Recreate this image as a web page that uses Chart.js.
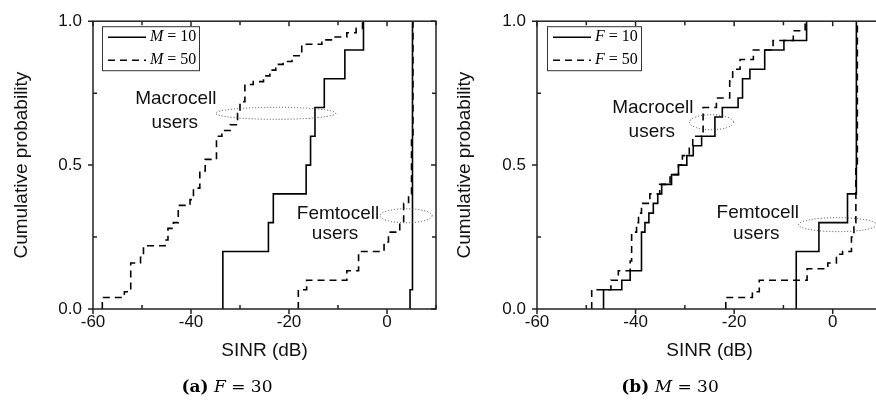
<!DOCTYPE html>
<html>
<head>
<meta charset="utf-8">
<script src="https://cdn.jsdelivr.net/npm/chart.js@4.4.1/dist/chart.umd.min.js"></script>
<style>
html, body { margin: 0; padding: 0; background: #fff; overflow: hidden; width: 876px; height: 403px; }
#wrapA { position: absolute; left: 0; top: 0; width: 440px; height: 403px; }
#wrapB { position: absolute; left: 440px; top: 0; width: 446px; height: 403px; }
.cap { position: absolute; top: 376px; font-family: "DejaVu Serif"; font-size: 17px; color: #000; white-space: nowrap; transform: translateX(-50%); }
</style>
</head>
<body>
<div id="wrapA"><canvas id="chartA" width="440" height="403"></canvas></div>
<div id="wrapB"><canvas id="chartB" width="446" height="403"></canvas></div>
<div class="cap" style="left:227px"><b>(a)</b> <i>F</i> = 30</div>
<div class="cap" style="left:670px"><b>(b)</b> <i>M</i> = 30</div>
<script>
// axis ticks
const xTickVals = [-60, -40, -20, 0];
const xMinorVals = [-50, -30, -10, 10];
const yTickVals = [0, 0.5, 1];
const yTickLabels = ['0.0', '0.5', '1.0'];
const yMinorVals = [0.25, 0.75];

// (a) F = 30 : CDF steps, x = SINR (dB), y = cumulative probability
const aMacro10X = [-33.5, -33.5, -24.2, -23.2, -16.5, -15.6, -14.7, -12.8, -8.6, -4.8];
const aMacro10Y = [0, 0.2, 0.3, 0.4, 0.5, 0.6, 0.7, 0.8, 0.9, 1.0];
const aFemto10X = [4.7, 4.7, 5.2];
const aFemto10Y = [0, 0.067, 1.0];
const aMacro50X = [-58.1, -58.1, -53.6, -52.3, -50.3, -49.7, -45.3, -44.7, -43.6, -42.6, -40.2, -39.5, -38.2, -37.1, -34.8, -33.7, -32.0, -30.5, -30.0, -29.0, -27.3, -25.2, -23.9, -22.7, -21.2, -19.4, -17.4, -13.3, -11.0, -8.2, -6.3, -5.0];
const aMacro50Y = [0, 0.04, 0.06, 0.16, 0.18, 0.22, 0.24, 0.28, 0.30, 0.36, 0.38, 0.42, 0.48, 0.52, 0.60, 0.62, 0.64, 0.68, 0.72, 0.78, 0.79, 0.81, 0.83, 0.85, 0.86, 0.88, 0.92, 0.935, 0.945, 0.96, 0.975, 1.0];
const aFemto50X = [-18.1, -18.1, -16.4, -8.2, -5.8, -0.6, 0.3, 2.6, 3.4, 4.4, 5.0, 5.3];
const aFemto50Y = [0, 0.067, 0.1, 0.133, 0.2, 0.233, 0.267, 0.3, 0.367, 0.4, 0.6, 1.0];

// (b) M = 30
const bMacro10X = [-46.5, -46.5, -42.8, -41.1, -38.8, -38.1, -37.3, -36.4, -35.5, -34.7, -32.7, -31.3, -29.6, -28.3, -26.6, -23.9, -22.4, -19.2, -18.3, -16.8, -13.8, -9.9, -5.3];
const bMacro10Y = [0, 0.067, 0.1, 0.133, 0.267, 0.3, 0.333, 0.367, 0.4, 0.433, 0.467, 0.5, 0.533, 0.567, 0.6, 0.667, 0.7, 0.733, 0.8, 0.833, 0.9, 0.933, 1.0];
const bFemto10X = [-7.4, -7.4, -2.8, 3.0, 4.8];
const bFemto10Y = [0, 0.2, 0.3, 0.4, 1.0];
const bMacro50X = [-48.9, -48.9, -45.0, -43.5, -41.1, -40.8, -39.8, -39.4, -38.8, -37.1, -35.1, -33.0, -31.3, -30.5, -29.1, -28.4, -26.3, -23.6, -20.9, -20.3, -18.8, -16.1, -12.1, -8.0, -5.6];
const bMacro50Y = [0, 0.067, 0.1, 0.133, 0.167, 0.267, 0.3, 0.333, 0.367, 0.4, 0.433, 0.467, 0.5, 0.533, 0.567, 0.6, 0.7, 0.733, 0.8, 0.833, 0.867, 0.9, 0.933, 0.967, 1.0];
const bFemto50X = [-21.7, -21.7, -16.3, -14.9, -5.2, -1.0, 0.75, 2.0, 3.8, 4.3, 4.7, 5.0];
const bFemto50Y = [0, 0.04, 0.06, 0.1, 0.14, 0.16, 0.19, 0.2, 0.25, 0.3, 0.5, 1.0];

const legendA = ['M', '10', '50'];
const legendB = ['F', '10', '50'];

function pts(xs, ys) {
  return xs.map((v, i) => ({ x: v, y: ys[i] }));
}

function series(xs, ys, dashed) {
  return {
    data: pts(xs, ys),
    stepped: true,
    borderColor: '#000',
    borderWidth: 1.6,
    borderDash: dashed ? [7, 5] : [],
    pointRadius: 0,
    fill: false
  };
}

// frame, ticks, legend and the little notes
const extras = {
  id: 'extras',
  afterDatasetsDraw(chart) {
    const { ctx, chartArea: a, scales: { x, y } } = chart;
    ctx.save();
    ctx.strokeStyle = '#222';
    ctx.lineWidth = 1.5;
    ctx.setLineDash([]);
    ctx.strokeRect(a.left, a.top, a.right - a.left, a.bottom - a.top);
    ctx.beginPath();
    xTickVals.forEach(v => {
      const p = x.getPixelForValue(v);
      ctx.moveTo(p, a.bottom); ctx.lineTo(p, a.bottom + 5);
      ctx.moveTo(p, a.top); ctx.lineTo(p, a.top + 5);
    });
    xMinorVals.forEach(v => {
      const p = x.getPixelForValue(v);
      ctx.moveTo(p, a.bottom); ctx.lineTo(p, a.bottom - 4);
      ctx.moveTo(p, a.top); ctx.lineTo(p, a.top + 4);
    });
    yTickVals.forEach(v => {
      const p = y.getPixelForValue(v);
      ctx.moveTo(a.left, p); ctx.lineTo(a.left - 5, p);
      ctx.moveTo(a.right, p); ctx.lineTo(a.right - 5, p);
    });
    yMinorVals.forEach(v => {
      const p = y.getPixelForValue(v);
      ctx.moveTo(a.left, p); ctx.lineTo(a.left + 4, p);
      ctx.moveTo(a.right, p); ctx.lineTo(a.right - 4, p);
    });
    ctx.stroke();
    ctx.restore();
  },
  afterDraw(chart) {
    const o = chart.options.plugins.extras;
    const { ctx, chartArea: a, scales: { x, y } } = chart;
    ctx.save();

    // legend box
    const bx = a.left + o.legendLeft, by = a.top + 5, bw = o.legendW, bh = 44;
    ctx.fillStyle = '#fff';
    ctx.fillRect(bx, by, bw, bh);
    ctx.strokeStyle = '#333';
    ctx.lineWidth = 1;
    ctx.strokeRect(bx + 0.5, by + 0.5, bw, bh);
    [1, 2].forEach((k, i) => {
      const ry = by + 11 + i * 23;
      ctx.strokeStyle = '#000';
      ctx.lineWidth = 1.6;
      ctx.setLineDash(i === 0 ? [] : [7, 5]);
      ctx.beginPath();
      ctx.moveTo(bx + 6, ry); ctx.lineTo(bx + 44, ry);
      ctx.stroke();
      ctx.setLineDash([]);
      ctx.fillStyle = '#000';
      ctx.textBaseline = 'middle';
      ctx.textAlign = 'left';
      ctx.font = 'italic 16px "Liberation Serif"';
      const tx = bx + 48;
      ctx.fillText(o.legend[0], tx, ry);
      const w = ctx.measureText(o.legend[0]).width;
      ctx.font = '16px "Liberation Serif"';
      ctx.fillText(' = ' + o.legend[k], tx + w, ry);
    });

    // notes
    ctx.fillStyle = '#111';
    ctx.font = '19px "Liberation Sans"';
    ctx.textAlign = 'center';
    ctx.textBaseline = 'middle';
    o.notes.forEach(n => ctx.fillText(n[0], x.getPixelForValue(n[1]), y.getPixelForValue(n[2])));

    ctx.strokeStyle = '#444';
    ctx.lineWidth = 1;
    ctx.setLineDash([1, 2]);
    o.rings.forEach(r => {
      ctx.beginPath();
      ctx.ellipse(x.getPixelForValue(r[0]), y.getPixelForValue(r[1]), r[2], r[3], 0, 0, Math.PI * 2);
      ctx.stroke();
    });
    ctx.restore();
  }
};

function makeChart(id, datasets, axisW, titlePad, extraOpts) {
  return new Chart(document.getElementById(id), {
    type: 'line',
    data: { datasets: datasets },
    plugins: [extras],
    options: {
      responsive: false,
      animation: false,
      devicePixelRatio: 1,
      layout: { padding: { top: 19, right: 4, left: 0, bottom: 0 } },
      plugins: {
        legend: { display: false },
        tooltip: { enabled: false },
        extras: extraOpts
      },
      scales: {
        x: {
          type: 'linear',
          min: -60,
          max: 10,
          afterBuildTicks: s => { s.ticks = xTickVals.map(v => ({ value: v })); },
          afterFit: s => { s.height = 94; },
          grid: { display: false, drawTicks: false },
          border: { display: false },
          ticks: { color: '#111', padding: 3, font: { family: 'Liberation Sans', size: 17 } },
          title: { display: true, text: 'SINR (dB)', color: '#111', padding: { top: 0, bottom: 41 }, font: { family: 'Liberation Sans', size: 19 } }
        },
        y: {
          type: 'linear',
          min: 0,
          max: 1,
          afterBuildTicks: s => { s.ticks = yTickVals.map(v => ({ value: v })); },
          afterFit: s => { s.width = axisW; },
          grid: { display: false, drawTicks: false },
          border: { display: false },
          ticks: { color: '#111', padding: 11, font: { family: 'Liberation Sans', size: 17 },
            callback: v => yTickLabels[yTickVals.indexOf(v)] },
          title: { display: true, text: 'Cumulative probability', color: '#111', padding: { top: titlePad, bottom: 0 }, font: { family: 'Liberation Sans', size: 19 } }
        }
      }
    }
  });
}

makeChart('chartA', [
  series(aMacro10X, aMacro10Y, false),
  series(aFemto10X, aFemto10Y, false),
  series(aMacro50X, aMacro50Y, true),
  series(aFemto50X, aFemto50Y, true)
], 93, 10.5, {
  legend: legendA, legendLeft: 9, legendW: 97,
  notes: [['Macrocell', -43.1, 0.729], ['users', -43.3, 0.646], ['Femtocell', -10.0, 0.33], ['users', -10.6, 0.261]],
  rings: [[-22.7, 0.68, 60, 6], [3.9, 0.324, 26, 7]]
});

makeChart('chartB', [
  series(bMacro10X, bMacro10Y, false),
  series(bFemto10X, bFemto10Y, false),
  series(bMacro50X, bMacro50Y, true),
  series(bFemto50X, bFemto50Y, true)
], 97, 13.5, {
  legend: legendB, legendLeft: 10, legendW: 94,
  notes: [['Macrocell', -36.5, 0.698], ['users', -36.7, 0.617], ['Femtocell', -15.2, 0.336], ['users', -15.5, 0.261]],
  rings: [[-24.6, 0.649, 22, 7.5], [1.0, 0.293, 39, 7]]
});
</script>
</body>
</html>
